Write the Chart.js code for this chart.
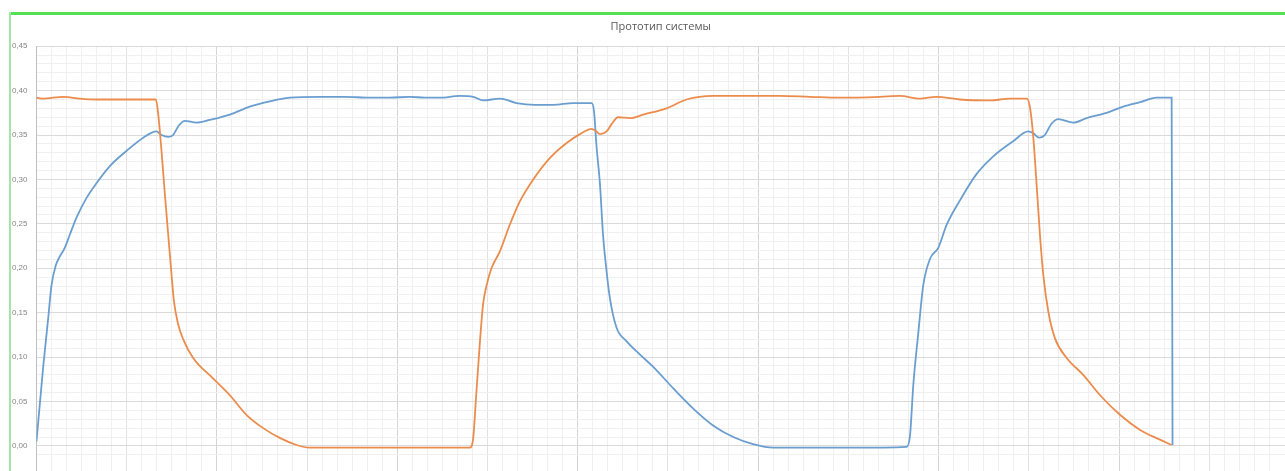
<!DOCTYPE html>
<html>
<head>
<meta charset="utf-8">
<title>Прототип системы</title>
<script src="https://cdn.jsdelivr.net/npm/chart.js@4.4.1/dist/chart.umd.min.js"></script>
<style>
  html, body { margin: 0; padding: 0; background: #ffffff; overflow: hidden; }
  #wrap { position: relative; width: 1285px; height: 471px; overflow: hidden; }
  #chart { position: absolute; left: 0; top: 0; }
  #frameTop { position: absolute; left: 9px; top: 12px; width: 1276px; height: 3px; background: #55e055; }
  #frameLeft { position: absolute; left: 9px; top: 12px; width: 2px; height: 459px; background: #a3e6a3; }
</style>
</head>
<body>
<div id="wrap">
  <canvas id="chart" width="1285" height="485"></canvas>
  <div id="frameTop"></div>
  <div id="frameLeft"></div>
</div>
<script>
// Time axis (s) and measured levels for the two channels
const blueTime = [0, 2.2, 3.9, 5.0, 6.4, 7.7, 9.4, 11.1, 13.3, 16.6, 20.0, 24.4, 29.9, 35.5, 39.9, 41.6, 43.8, 45.4, 47.4, 49.3,
  53.2, 57.6, 64.3, 70.9, 77.6, 84.3, 94.2, 102.5, 110.8, 117.5, 124.2, 129.1, 134.1, 140.8, 145.2, 148.5, 154.1, 159.6, 165.7, 171.8,
  178.5, 184.6, 185.4, 186.2, 187.4, 188.4, 189.6, 190.7, 192.9, 196.2, 200.6, 205.1, 211.7, 218.4, 225.0, 231.7, 238.3, 245.0, 253.9, 270.5,
  289.4, 290.5, 291.6, 293.3, 294.9, 297.2, 299.9, 302.7, 307.2, 312.6, 318.2, 324.8, 329.8, 331.5, 333.4, 335.3, 337.6, 339.8, 344.8, 349.2,
  355.9, 361.4, 367.0, 372.5, 377.5, 377.8];
const blueValue = [0.005, 0.088, 0.144, 0.181, 0.203, 0.213, 0.223, 0.238, 0.257, 0.279, 0.296, 0.315, 0.332, 0.347, 0.354, 0.350, 0.348, 0.350, 0.361, 0.366,
  0.364, 0.367, 0.373, 0.382, 0.388, 0.392, 0.393, 0.393, 0.392, 0.392, 0.393, 0.392, 0.392, 0.394, 0.393, 0.389, 0.391, 0.386, 0.384, 0.384,
  0.386, 0.386, 0.377, 0.339, 0.294, 0.238, 0.196, 0.166, 0.133, 0.118, 0.103, 0.089, 0.065, 0.042, 0.023, 0.010, 0.002, -0.002, -0.002, -0.002,
  -0.001, 0.012, 0.069, 0.129, 0.181, 0.211, 0.223, 0.249, 0.277, 0.306, 0.326, 0.343, 0.354, 0.352, 0.347, 0.350, 0.363, 0.368, 0.364, 0.369,
  0.375, 0.382, 0.387, 0.392, 0.392, 0.001];

const orangeTime = [0, 2.2, 8.9, 14.4, 20.0, 29.9, 39.7, 40.4, 41.6, 42.7, 43.8, 44.9, 45.7, 47.1, 48.8, 52.1, 58.7, 64.3, 69.8, 75.4,
  80.9, 86.5, 90.9, 104.2, 120.8, 144.1, 145.2, 146.3, 147.4, 148.5, 149.7, 151.3, 154.1, 157.4, 160.7, 165.2, 170.7, 176.3, 180.7, 184.6,
  186.2, 187.4, 189.6, 191.2, 193.4, 197.3, 201.8, 209.5, 216.2, 225.0, 237.2, 247.2, 257.2, 267.2, 280.5, 287.1, 293.8, 299.3, 307.1, 317.1,
  323.7, 329.3, 330.4, 331.5, 332.6, 333.7, 334.8, 336.5, 338.7, 342.6, 348.1, 353.7, 360.3, 367.0, 373.6, 377.5];
const orangeValue = [0.392, 0.391, 0.393, 0.391, 0.390, 0.390, 0.390, 0.376, 0.331, 0.283, 0.238, 0.193, 0.163, 0.137, 0.120, 0.099, 0.076, 0.057, 0.035, 0.020,
  0.009, 0.001, -0.002, -0.002, -0.002, -0.002, 0.008, 0.061, 0.114, 0.159, 0.181, 0.200, 0.219, 0.249, 0.275, 0.300, 0.324, 0.341, 0.351, 0.357,
  0.354, 0.351, 0.354, 0.362, 0.370, 0.369, 0.373, 0.380, 0.390, 0.394, 0.394, 0.394, 0.393, 0.392, 0.393, 0.394, 0.391, 0.393, 0.390, 0.389,
  0.391, 0.391, 0.381, 0.347, 0.294, 0.238, 0.193, 0.151, 0.121, 0.099, 0.080, 0.057, 0.035, 0.018, 0.007, 0.001];

const chartTitle = 'Прототип системы';
const yLabelStep = 0.05;   // labelled value gridlines
const yMinorStep = 0.01;   // minor value gridlines
const xMinorStep = 5;      // minor time gridlines
const xMidStep = 30;
const xMajorStep = 60;

const toPoints = (xs, ys) => xs.map((x, i) => ({ x: x, y: ys[i] }));

function isMultiple(v, step) {
  const r = v / step;
  return Math.abs(r - Math.round(r)) < 1e-6;
}

new Chart(document.getElementById('chart'), {
  type: 'line',
  data: {
    datasets: [
      {
        label: 'Канал 1',
        data: toPoints(blueTime, blueValue),
        borderColor: '#6a9ed0',
        borderWidth: 1.8,
        pointRadius: 0,
        cubicInterpolationMode: 'monotone',
        order: 2
      },
      {
        label: 'Канал 2',
        data: toPoints(orangeTime, orangeValue),
        borderColor: '#ec8c4c',
        borderWidth: 1.8,
        pointRadius: 0,
        cubicInterpolationMode: 'monotone',
        order: 1
      }
    ]
  },
  options: {
    responsive: false,
    devicePixelRatio: 1,
    animation: false,
    layout: { padding: 0 },
    plugins: {
      legend: { display: false },
      tooltip: { enabled: false },
      title: {
        display: true,
        text: chartTitle,
        fullSize: false,
        color: '#595959',
        font: { family: 'Open Sans', size: 11, weight: 'normal' },
        padding: { top: 20, bottom: 13 }
      }
    },
    scales: {
      x: {
        type: 'linear',
        min: 0,
        max: 415.2,
        afterFit: s => { s.height = 0; },
        border: { display: false },
        ticks: { display: false, stepSize: xMinorStep },
        grid: {
          drawTicks: false,
          lineWidth: 1,
          color: ctx => {
            const v = ctx.tick ? ctx.tick.value : 0;
            if (isMultiple(v, xMajorStep)) return '#d4d4d4';
            if (isMultiple(v, xMidStep)) return '#e2e2e2';
            return '#f0f0f0';
          }
        }
      },
      y: {
        min: -0.0285,
        max: 0.45,
        afterFit: s => { s.width = 36.5; },
        border: { display: true, color: '#bfbfbf', width: 1 },
        ticks: {
          stepSize: yMinorStep,
          autoSkip: false,
          padding: 9,
          color: '#858585',
          font: { family: 'Liberation Sans', size: 8 },
          callback: v => (v >= 0 && isMultiple(v, yLabelStep)) ? v.toFixed(2).replace('.', ',') : ''
        },
        grid: {
          drawTicks: false,
          lineWidth: 1,
          color: ctx => {
            const v = ctx.tick ? ctx.tick.value : 0;
            return isMultiple(v, yLabelStep) ? '#dadada' : '#f0f0f0';
          }
        }
      }
    }
  }
});
</script>
</body>
</html>
